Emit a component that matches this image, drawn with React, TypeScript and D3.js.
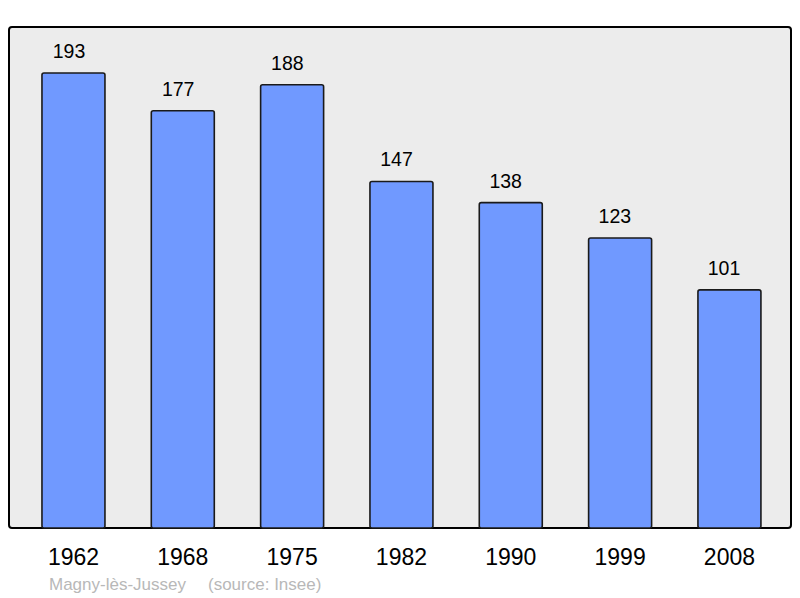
import React from "react";
import * as d3 from "d3";

const years = ["1962", "1968", "1975", "1982", "1990", "1999", "2008"];
const population = [193, 177, 188, 147, 138, 123, 101];
const townName = "Magny-lès-Jussey";
const sourceText = "(source: Insee)";

const W = 800;
const H = 598;
const panel = { x: 9, y: 27, w: 782, h: 501 };
const FONT = "'Liberation Sans', Arial, sans-serif";

export default function App() {
  const x = d3
    .scaleBand<string>()
    .domain(years)
    .range([20.1, 782.8])
    .paddingInner(0.4238)
    .paddingOuter(0.2);
  const labelX = d3.scalePoint<string>().domain(years).range([69, 724]);
  const y = d3.scaleLinear().domain([0, 193]).range([528, 73]);
  const bw = x.bandwidth();

  return (
    <svg
      width={W}
      height={H}
      style={{ position: "absolute", left: 0, top: 0 }}
      fontFamily={FONT}
    >
      <rect x={0} y={0} width={W} height={H} fill="#ffffff" />
      <rect
        x={panel.x}
        y={panel.y}
        width={panel.w}
        height={panel.h}
        rx={3}
        fill="#ececec"
        stroke="#000"
        strokeWidth={2}
      />
      {years.map((yr, i) => {
        const bx = x(yr)!;
        const top = y(population[i]);
        return (
          <g key={yr}>
            <rect
              x={bx}
              y={top}
              width={bw}
              height={y(0) - top}
              rx={2}
              fill="#7099ff"
              stroke="#1a1a1a"
              strokeWidth={1.6}
            />
            <text
              x={labelX(yr)!}
              y={top - 15}
              textAnchor="middle"
              fontSize={19.5}
              fill="#000"
            >
              {population[i]}
            </text>
            <text
              x={bx + bw / 2}
              y={565}
              textAnchor="middle"
              fontSize={23}
              fill="#000"
            >
              {yr}
            </text>
          </g>
        );
      })}
      <text x={49} y={590} fontSize={17} fill="#b8b8b8">
        {townName}
      </text>
      <text x={208} y={590} fontSize={17} fill="#b8b8b8">
        {sourceText}
      </text>
    </svg>
  );
}
